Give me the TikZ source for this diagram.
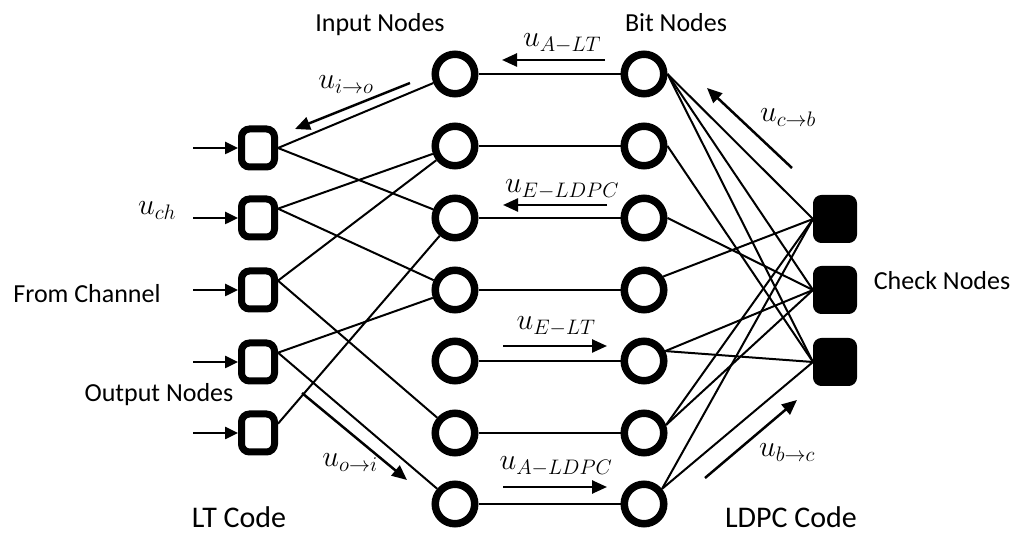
\RequirePackage{fix-cm}
\documentclass[tikz,border=0pt]{standalone}
\usepackage{fontspec}
\setmainfont{Carlito}
\usetikzlibrary{arrows.meta}

\begin{document}
\begin{tikzpicture}[x=1pt,y=-1pt,
  outnode/.style={draw, fill=white, line width=7pt, rounded corners=8pt,
    minimum width=33pt, minimum height=38pt, inner sep=0pt},
  innode/.style={draw, fill=white, circle, line width=7.5pt, minimum size=39.5pt, inner sep=0pt},
  chknode/.style={draw, fill=black, line width=1pt, rounded corners=8pt,
    minimum width=43pt, minimum height=47pt, inner sep=0pt},
  link/.style={line width=2pt},
  msg/.style={line width=2.5pt, -{Triangle[length=15pt,width=13pt]}},
  feed/.style={line width=2.5pt, -{Triangle[length=13pt,width=12pt]}},
  lbl/.style={anchor=base, inner sep=0pt, font=\fontsize{26}{30}\selectfont},
  biglbl/.style={anchor=base, inner sep=0pt, font=\fontsize{30}{34}\selectfont},
  mlbl/.style={anchor=base, inner sep=0pt, font=\fontsize{30}{34}\selectfont}]

\useasboundingbox (0,0) rectangle (1018,534);

% LT output nodes
\foreach \i/\y in {1/148,2/218,3/290,4/362,5/433}
  \node[outnode] (lt\i) at (258,\y) {};
% input nodes and bit nodes
\foreach \i/\y in {1/74,2/146,3/218,4/290,5/361,6/433,7/504} {
  \node[innode] (in\i) at (455,\y) {};
  \node[innode] (b\i) at (644,\y) {};
}
% LDPC check nodes
\node[chknode] (c1) at (835,219) {};
\node[chknode] (c2) at (835,290) {};
\node[chknode] (c3) at (835,362) {};

% LT code graph
\draw[link] (lt1.east) -- (in1);
\draw[link] (lt1.east) -- (in3);
\draw[link] (lt2.25) -- (in2);
\draw[link] (lt2.25) -- (in4);
\draw[link] (lt3.25) -- (in2);
\draw[link] (lt3.25) -- (in6);
\draw[link] (lt4.25) -- (in4);
\draw[link] (lt4.25) -- (in7);
\draw[link] (lt5.25) -- (in3);

% input node to bit node
\foreach \i in {1,...,7}
  \draw[link] (in\i.east) -- (b\i.west);

% LDPC code graph
\draw[link] (b1.east) -- (c1.west);
\draw[link] (b1.east) -- (c2.west);
\draw[link] (b1.east) -- (c3.west);
\draw[link] (b2.east) -- (c3.west);
\draw[link] (b3.east) -- (c2.west);
\draw[link] (b4.35) -- (c1.west);
\draw[link] (b5.25) -- (c2.west);
\draw[link] (b5.25) -- (c3.west);
\draw[link] (b6.20) -- (c1.west);
\draw[link] (b6.20) -- (c2.west);
\draw[link] (b7.40) -- (c1.west);
\draw[link] (b7.40) -- (c3.west);

% channel inputs
\foreach \i/\y in {1/148,2/218,3/290,4/362,5/433} {
  \coordinate (ch\i) at (193,\y);
  \draw[feed] (ch\i) -- (lt\i.west);
}

% message arrows
\coordinate (ioA) at (410,83);   \coordinate (ioB) at (295,129);
\coordinate (oiA) at (302,393);  \coordinate (oiB) at (407,480);
\coordinate (altA) at (605,60);  \coordinate (altB) at (502,60);
\coordinate (eldA) at (607,205); \coordinate (eldB) at (503,205);
\coordinate (eltA) at (503,346); \coordinate (eltB) at (607,346);
\coordinate (aldA) at (503,487); \coordinate (aldB) at (607,487);
\coordinate (cbA) at (792,168);  \coordinate (cbB) at (707,88);
\coordinate (bcA) at (705,478);  \coordinate (bcB) at (797,400);
\draw[msg] (ioA) -- (ioB);
\draw[msg] (oiA) -- (oiB);
\draw[msg] (altA) -- (altB);
\draw[msg] (eldA) -- (eldB);
\draw[msg] (eltA) -- (eltB);
\draw[msg] (aldA) -- (aldB);
\draw[msg] (cbA) -- (cbB);
\draw[msg] (bcA) -- (bcB);

% message labels
\node[mlbl] (lio) at (346,89) {$u_{i\to o}$};
\node[mlbl] (loi) at (350,467) {$u_{o\to i}$};
\node[mlbl] (lalt) at (562,47) {$u_{A-LT}$};
\node[mlbl] (leld) at (562,193) {$u_{E-LDPC}$};
\node[mlbl] (lelt) at (556,330) {$u_{E-LT}$};
\node[mlbl] (lald) at (556,470) {$u_{A-LDPC}$};
\node[mlbl] (lcb) at (788,122) {$u_{c\to b}$};
\node[mlbl] (lbc) at (787,457) {$u_{b\to c}$};
\node[mlbl] (lch) at (157,215) {$u_{ch}$};

% titles
\node[lbl] (tin) at (380,32) {Input Nodes};
\node[lbl] (tbit) at (676,32) {Bit Nodes};
\node[lbl] (tchk) at (942,290) {Check Nodes};
\node[lbl] (tch) at (87,303) {From Channel};
\node[lbl] (tout) at (159,402) {Output Nodes};
\node[biglbl] (tlt) at (239,527) {LT Code};
\node[biglbl] (tldpc) at (791,527) {LDPC Code};
\end{tikzpicture}
\end{document}
